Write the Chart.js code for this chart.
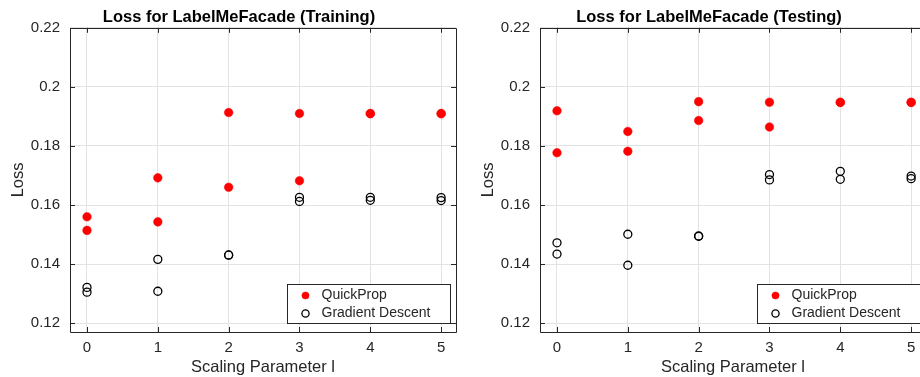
<!DOCTYPE html>
<html>
<head>
<meta charset="utf-8">
<script src="https://cdn.jsdelivr.net/npm/chart.js@4/dist/chart.umd.min.js"></script>
<style>
    html, body { margin: 0; padding: 0; background: #fff; overflow: hidden; width: 920px; height: 377px; }
    .panel { position: absolute; top: 0; width: 478px; height: 377px; }
</style>
</head>
<body>
<div class="panel" style="left:0px"><canvas id="canvas1" width="478" height="377"></canvas></div>
<div class="panel" style="left:470px"><canvas id="canvas2" width="478" height="377"></canvas></div>
<script>
// scaling parameter l for each run (two runs per value)
let runX = [0, 0, 1, 1, 2, 2, 3, 3, 4, 4, 5, 5];

let trainQuickProp = [0.1560, 0.1514, 0.1692, 0.1543, 0.1913, 0.1660, 0.1910, 0.1682, 0.1910, 0.1909, 0.1910, 0.1909];
let trainGradient = [0.1321, 0.1305, 0.1416, 0.1308, 0.1431, 0.1430, 0.1626, 0.1612, 0.1626, 0.1616, 0.1625, 0.1615];

let testQuickProp = [0.1919, 0.1777, 0.1849, 0.1782, 0.1950, 0.1886, 0.1948, 0.1864, 0.1948, 0.1947, 0.1948, 0.1947];
let testGradient = [0.1472, 0.1434, 0.1501, 0.1396, 0.1495, 0.1494, 0.1703, 0.1685, 0.1714, 0.1687, 0.1698, 0.1689];

let xTicks = [0, 1, 2, 3, 4, 5];
let yTicks = [0.12, 0.14, 0.16, 0.18, 0.2, 0.22];
let seriesNames = ["QuickProp", "Gradient Descent"];

let textColor = "#262626";
let fontName = "'Liberation Sans', Arial, sans-serif";

function toPoints(xs, ys) {
    let pts = [];
    for (let i = 0; i < xs.length; i++) {
        pts.push({ x: xs[i], y: ys[i] });
    }
    return pts;
}

// matlab style box with inward ticks, plus legend in the lower right
const boxPlugin = {
    id: "boxPlugin",
    afterDraw(chart) {
        let c = chart.ctx;
        let a = chart.chartArea;
        let xs = chart.scales.x;
        let ys = chart.scales.y;
        c.save();
        c.strokeStyle = textColor;
        c.lineWidth = 1;
        c.beginPath();
        c.rect(Math.round(a.left) + 0.5, Math.round(a.top) + 0.5, Math.round(a.right - a.left), Math.round(a.bottom - a.top));
        xTicks.forEach((v) => {
            let px = Math.round(xs.getPixelForValue(v)) + 0.5;
            c.moveTo(px, a.bottom); c.lineTo(px, a.bottom - 5);
            c.moveTo(px, a.top); c.lineTo(px, a.top + 5);
        });
        yTicks.forEach((v) => {
            let py = Math.round(ys.getPixelForValue(v)) + 0.5;
            c.moveTo(a.left, py); c.lineTo(a.left + 5, py);
            c.moveTo(a.right, py); c.lineTo(a.right - 5, py);
        });
        c.stroke();

        // legend
        let w = 163, h = 39;
        let lx = Math.round(a.right - 6 - w) + 0.5;
        let ly = Math.round(a.bottom - 9 - h) + 0.5;
        c.fillStyle = "#fff";
        c.fillRect(lx, ly, w, h);
        c.strokeStyle = textColor;
        c.strokeRect(lx, ly, w, h);
        c.font = "14px " + fontName;
        c.textBaseline = "middle";
        chart.data.datasets.forEach((ds, i) => {
            let my = ly + 11 + i * 18;
            c.beginPath();
            c.arc(lx + 18, my, 3.6, 0, Math.PI * 2);
            c.fillStyle = ds.pointBackgroundColor;
            c.fill();
            c.lineWidth = ds.pointBorderWidth;
            c.strokeStyle = ds.pointBorderColor;
            c.stroke();
            c.fillStyle = textColor;
            c.fillText(ds.label, lx + 34, my);
        });
        c.restore();
    },
};

function makeChart(id, title, quick, grad) {
    let ctx = document.getElementById(id);
    return new Chart(ctx, {
        type: "scatter",
        data: {
            datasets: [{
                    label: seriesNames[0],
                    data: toPoints(runX, quick),
                    pointRadius: 4.3,
                    pointBackgroundColor: "#ff0000",
                    pointBorderColor: "#ff0000",
                    pointBorderWidth: 0.5,
                },
                {
                    label: seriesNames[1],
                    data: toPoints(runX, grad),
                    pointRadius: 4,
                    pointBackgroundColor: "rgba(0,0,0,0)",
                    pointBorderColor: "#000000",
                    pointBorderWidth: 1.3,
                },
            ],
        },
        options: {
            responsive: false,
            animation: false,
            layout: { padding: 0 },
            plugins: {
                legend: { display: false },
                tooltip: { enabled: false },
                title: {
                    display: true,
                    text: title,
                    color: "#000",
                    font: { family: fontName, size: 16.5, weight: "bold" },
                    padding: { top: 8, bottom: 0 },
                },
            },
            scales: {
                x: {
                    type: "linear",
                    min: -0.24,
                    max: 5.21,
                    afterBuildTicks: (scale) => {
                        scale.ticks = xTicks.map((v) => ({ value: v }));
                    },
                    afterFit: (scale) => {
                        scale.height = 45;
                    },
                    ticks: {
                        color: textColor,
                        font: { family: fontName, size: 15 },
                        padding: 7,
                        maxRotation: 0,
                    },
                    grid: { color: "#e3e3e3", drawTicks: false },
                    border: { display: false },
                    title: {
                        display: true,
                        text: "Scaling Parameter l",
                        color: textColor,
                        font: { family: fontName, size: 16.5 },
                        padding: { top: 0, bottom: 0 },
                    },
                },
                y: {
                    type: "linear",
                    min: 0.117,
                    max: 0.22,
                    afterBuildTicks: (scale) => {
                        scale.ticks = yTicks.map((v) => ({ value: v }));
                    },
                    afterFit: (scale) => {
                        scale.width = 70;
                    },
                    ticks: {
                        color: textColor,
                        font: { family: fontName, size: 15 },
                        padding: 10,
                        callback: (v) => String(Number(v.toFixed(2))),
                    },
                    grid: { color: "#e3e3e3", drawTicks: false },
                    border: { display: false },
                    title: {
                        display: true,
                        text: "Loss",
                        color: textColor,
                        font: { family: fontName, size: 16.5 },
                        padding: { top: 9, bottom: 0 },
                    },
                },
                // empty right axis, only keeps the plot area away from the right edge
                yRight: {
                    type: "linear",
                    position: "right",
                    ticks: { display: false },
                    grid: { display: false },
                    border: { display: false },
                    afterFit: (scale) => {
                        scale.width = 22;
                    },
                },
            },
        },
        plugins: [boxPlugin],
    });
}

makeChart("canvas1", "Loss for LabelMeFacade (Training)", trainQuickProp, trainGradient);
makeChart("canvas2", "Loss for LabelMeFacade (Testing)", testQuickProp, testGradient);
</script>
</body>
</html>
